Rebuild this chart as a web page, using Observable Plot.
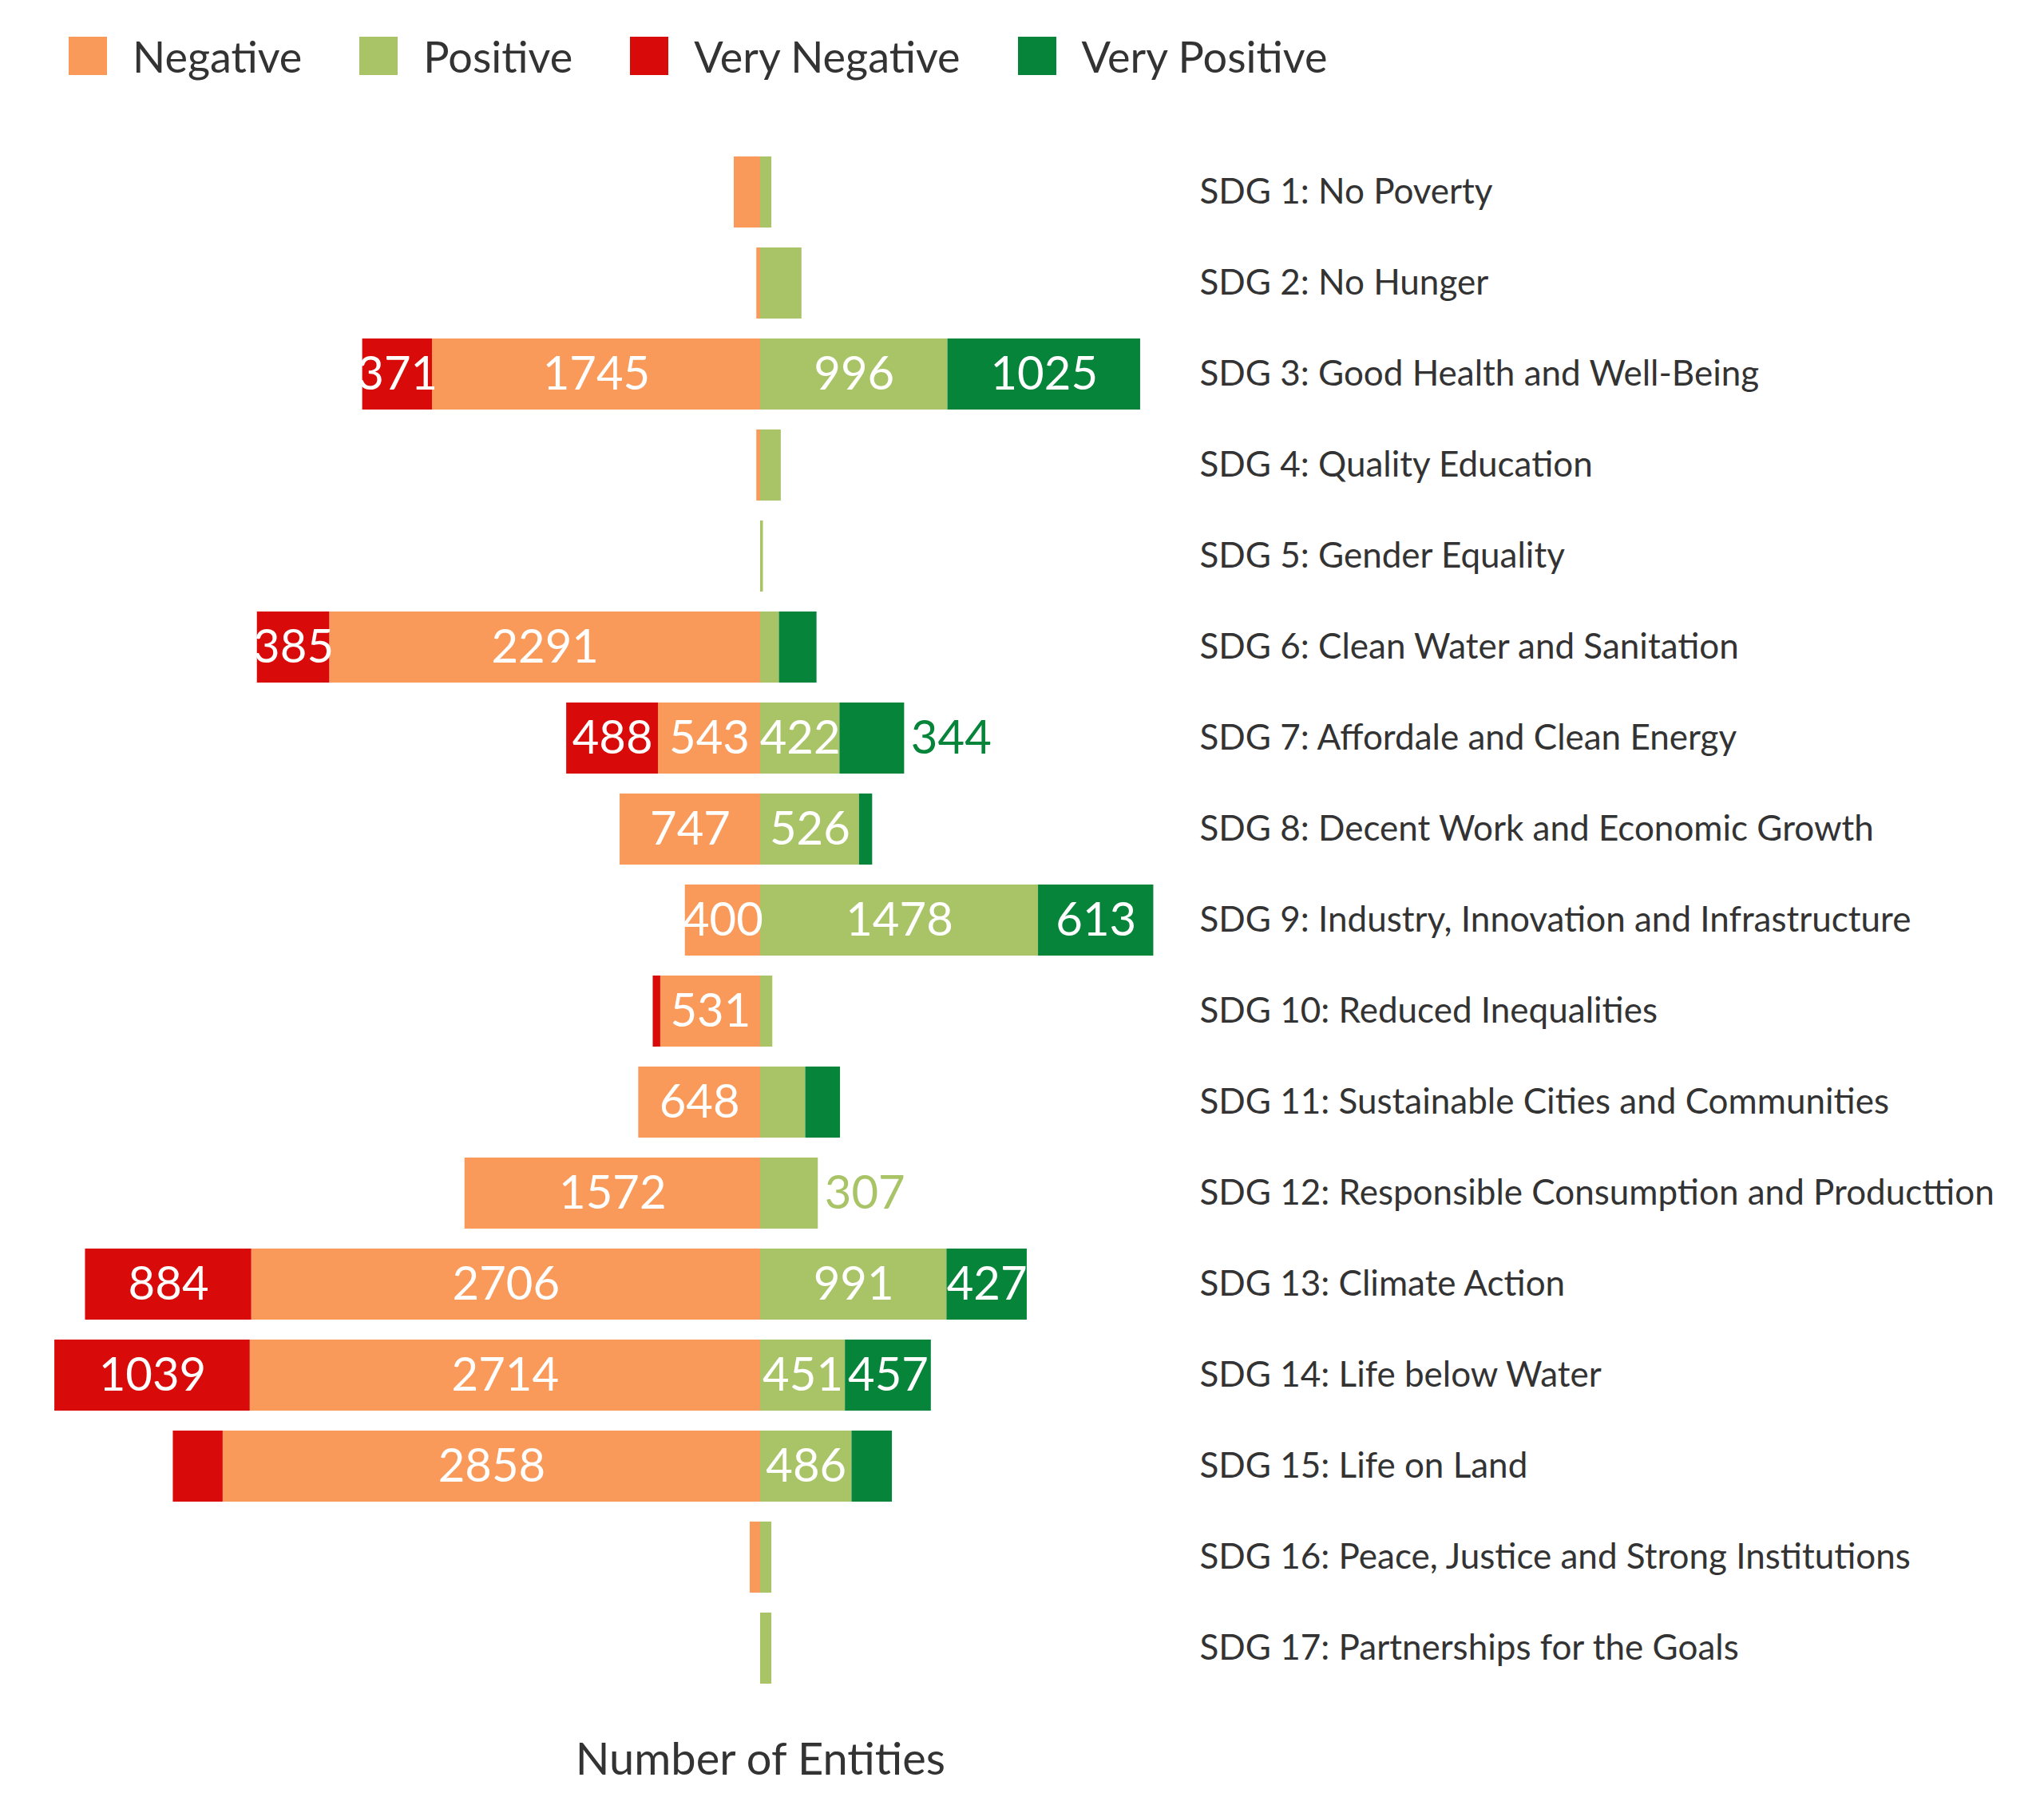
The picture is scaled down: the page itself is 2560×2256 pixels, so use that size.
<!DOCTYPE html>
<html><head><meta charset="utf-8">
<script src="https://cdn.jsdelivr.net/npm/d3@7"></script>
<script src="https://cdn.jsdelivr.net/npm/@observablehq/plot@0.6"></script>
<style>
body{margin:0;background:#fff;font-family:Lato,"Open Sans",sans-serif;}
#legend{height:140px;display:flex;align-items:center;padding-left:86px;gap:0;font-size:54px;color:#333;}
.item{display:flex;align-items:center;margin-right:72px;}
.sw{width:48px;height:48px;margin-right:32px;}
</style></head><body>
<div id="legend"></div>
<div id="chart"></div>
<script>
const categories = ["SDG 1: No Poverty","SDG 2: No Hunger","SDG 3: Good Health and Well-Being","SDG 4: Quality Education","SDG 5: Gender Equality","SDG 6: Clean Water and Sanitation","SDG 7: Affordale and Clean Energy","SDG 8: Decent Work and Economic Growth","SDG 9: Industry, Innovation and Infrastructure","SDG 10: Reduced Inequalities","SDG 11: Sustainable Cities and Communities","SDG 12: Responsible Consumption and Producttion","SDG 13: Climate Action","SDG 14: Life below Water","SDG 15: Life on Land","SDG 16: Peace, Justice and Strong Institutions","SDG 17: Partnerships for the Goals"];
const veryNegative = [0,0,371,0,0,385,488,0,0,40,0,0,884,1039,265,0,0];
const negative     = [140,20,1745,20,0,2291,543,747,400,531,648,1572,2706,2714,2858,55,0];
const positive     = [60,220,996,110,15,100,422,526,1478,65,240,307,991,451,486,60,60];
const veryPositive = [0,0,1025,0,0,200,344,70,613,0,185,0,427,457,215,0,0];
const seriesNames = ["Negative","Positive","Very Negative","Very Positive"];
const seriesColors = ["#f99a5a","#a8c466","#d90a0a","#06843a"];
const color = d3.scaleOrdinal(seriesNames, seriesColors);

const rows = [];
categories.forEach((c,i)=>{
  rows.push({cat:c,s:"Negative",v:negative[i],x1:-negative[i],x2:0});
  rows.push({cat:c,s:"Very Negative",v:veryNegative[i],x1:-negative[i]-veryNegative[i],x2:-negative[i]});
  rows.push({cat:c,s:"Positive",v:positive[i],x1:0,x2:positive[i]});
  rows.push({cat:c,s:"Very Positive",v:veryPositive[i],x1:positive[i],x2:positive[i]+veryPositive[i]});
});
const bars = rows.filter(d=>d.v>0);
const inside = bars.filter(d=>d.v>=350);
const outside = bars.filter(d=>d.v>=300 && d.v<350);

const leg = document.getElementById("legend");
seriesNames.forEach((n,i)=>{
  leg.insertAdjacentHTML("beforeend",`<div class="item"><div class="sw" style="background:${seriesColors[i]}"></div>${n}</div>`);
});

const chart = Plot.plot({
  width:2560, height:2116,
  marginLeft:0, marginRight:1080, marginTop:22, marginBottom:114,
  style:{fontFamily:"Lato, 'Open Sans', sans-serif", background:"#fff"},
  x:{type:"linear", domain:[-4042,2242], axis:null},
  y:{domain:categories, padding:0.22, axis:null},
  marks:[
    Plot.rectX(bars,{y:"cat",x1:"x1",x2:"x2",fill:d=>color(d.s)}),
    Plot.text(inside,{y:"cat",x:d=>(d.x1+d.x2)/2,text:d=>String(d.v),fill:"white",fontSize:58}),
    Plot.text(outside,{y:"cat",x:"x2",dx:8,text:d=>String(d.v),textAnchor:"start",fill:d=>color(d.s),fontSize:58}),
    Plot.text(categories,{y:d=>d,x:2242,dx:22,text:d=>d,textAnchor:"start",fill:"#333",fontSize:44}),
    Plot.text(["Number of Entities"],{x:0,frameAnchor:"bottom",dy:80,text:d=>d,fill:"#333",fontSize:56})
  ]
});
document.getElementById("chart").appendChild(chart);
</script></body></html>
